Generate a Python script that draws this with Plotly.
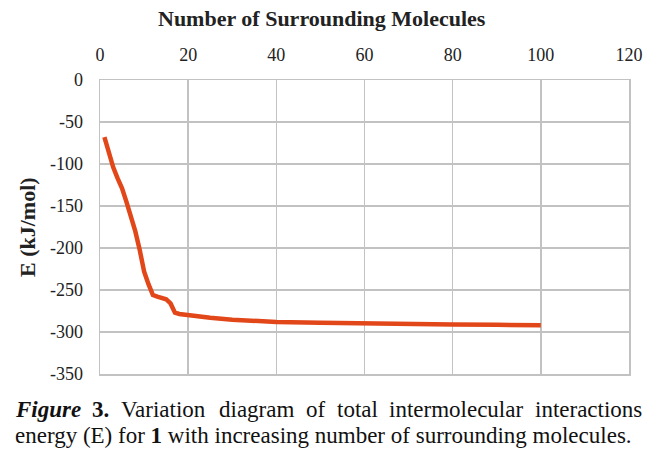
import plotly.graph_objects as go

molecules = [1, 2, 3, 4, 5, 6, 7, 8, 9, 10, 11, 12, 13, 14, 15, 16, 17, 18, 20, 25, 30, 35, 40, 50, 60, 70, 80, 90, 100]
energy = [-68, -87, -104, -117, -129, -145, -162, -180, -202, -228, -243, -256, -258, -259, -261, -266, -277, -278.5, -280, -283, -285.5, -287, -288, -289, -290, -290.5, -291, -291.5, -292]

x_ticks = [0, 20, 40, 60, 80, 100, 120]
y_ticks = [0, -50, -100, -150, -200, -250, -300, -350]

x_title = "Number of Surrounding Molecules"
y_title = "E (kJ/mol)"
caption_1_words = ["<b><i>Figure</i></b>", "<b>3.</b>", "Variation", "diagram", "of", "total",
                   "intermolecular", "interactions"]
caption_2 = "energy (E) for <b>1</b> with increasing number of surrounding molecules."

# layout: left edges (px) of the words of the justified first caption line
caption_1_left = [15, 91.5, 120.5, 219, 306, 336.5, 389, 534.5]

FONT = "Liberation Serif"
GRID = "#C2C2C2"
TXT = "#222222"
CAP = "#111111"

# plot area is placed at px 100..629 x 80..374
PLOT_LEFT = 100

fig = go.Figure()
fig.add_trace(go.Scatter(
    x=molecules, y=energy, mode="lines",
    line=dict(color="#E2471A", width=4.5),
    showlegend=False,
))

annotations = [
    dict(text="<b>" + x_title + "</b>", xref="paper", yref="paper", x=0.4206, y=1,
         yshift=62, xanchor="center", yanchor="middle", showarrow=False,
         font=dict(family=FONT, size=22, color=TXT)),
    dict(text="<b>" + y_title + "</b>", xref="paper", yref="paper", x=0, y=0.5,
         xshift=-73, xanchor="center", yanchor="middle", textangle=-90, showarrow=False,
         font=dict(family=FONT, size=22, color=TXT)),
    dict(text=caption_2, xref="paper", yref="paper", x=0, y=0,
         xshift=15 - PLOT_LEFT - 2, yshift=-61.5, xanchor="left", yanchor="middle", showarrow=False,
         font=dict(family=FONT, size=23, color=CAP)),
]
for w, s in zip(caption_1_words, caption_1_left):
    annotations.append(dict(text=w, xref="paper", yref="paper", x=0, y=0,
                            xshift=s - PLOT_LEFT - 2, yshift=-35, xanchor="left", yanchor="middle",
                            showarrow=False, font=dict(family=FONT, size=23, color=CAP)))

fig.update_layout(
    width=667, height=459,
    margin=dict(l=100, r=38, t=80, b=85),
    paper_bgcolor="white", plot_bgcolor="white",
    font=dict(family=FONT, color=TXT, size=18),
    hovermode=False,
    xaxis=dict(
        side="top", range=[0, 120], tickvals=x_ticks, ticktext=[str(v) for v in x_ticks],
        showgrid=True, gridcolor=GRID, gridwidth=1.5,
        showline=True, linecolor=GRID, linewidth=1.5, mirror=True,
        ticks="outside", ticklen=10, tickcolor="rgba(0,0,0,0)",
        tickfont=dict(family=FONT, size=18, color=TXT),
        zeroline=False,
    ),
    yaxis=dict(
        range=[-350, 0], tickvals=y_ticks, ticktext=[str(v) for v in y_ticks],
        showgrid=True, gridcolor=GRID, gridwidth=1.5,
        showline=True, linecolor=GRID, linewidth=1.5, mirror=True,
        ticks="outside", ticklen=12, tickcolor="rgba(0,0,0,0)",
        tickfont=dict(family=FONT, size=18, color=TXT),
        zeroline=False,
    ),
    annotations=annotations,
)

fig.write_html("out.html",
               config={"displayModeBar": False, "staticPlot": True},
               post_script="document.body.style.margin='0px';document.body.style.overflow='hidden';")
